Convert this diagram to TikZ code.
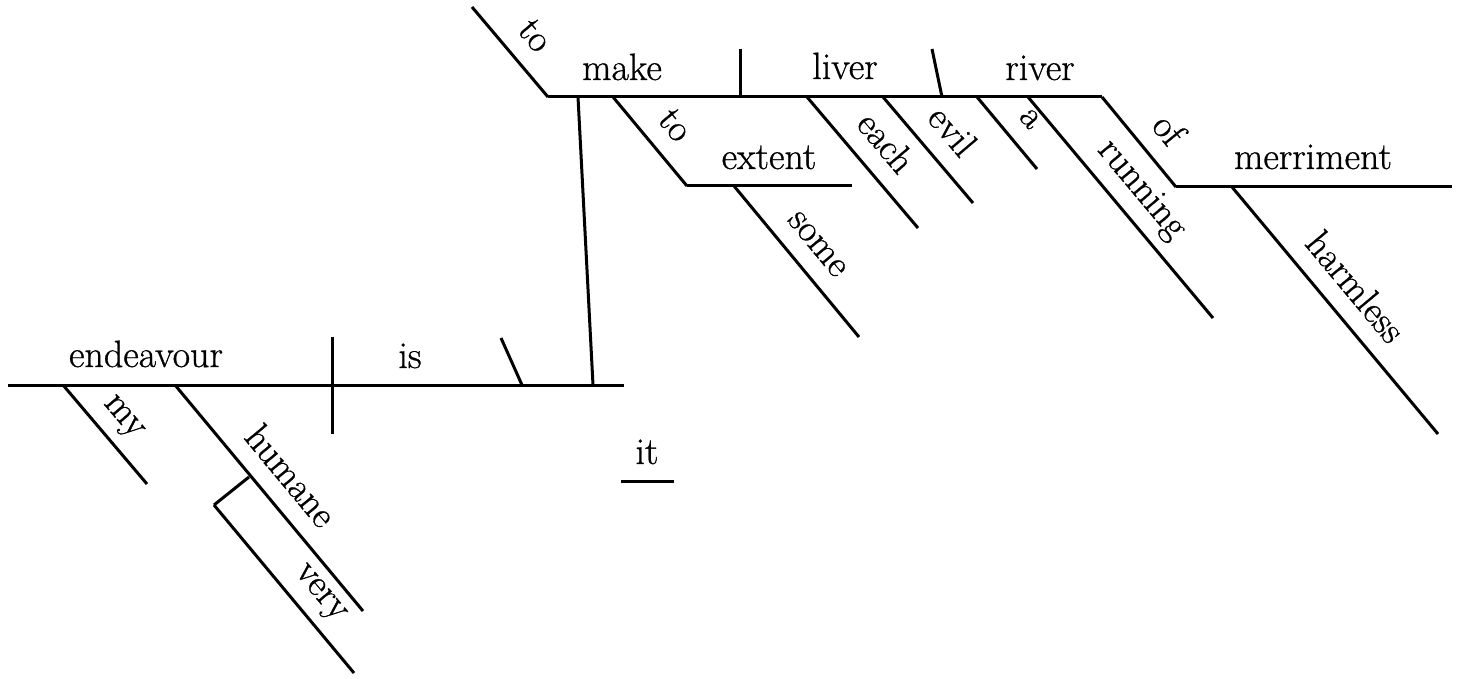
\documentclass[tikz,border=0pt]{standalone}
\usepackage{fontspec}
\newfontfamily\wfam{Latin Modern Roman}[FakeBold=0.8]
\newcommand\wfont{\wfam\fontsize{38}{44}\selectfont}
\begin{document}
\begin{tikzpicture}[x=1pt,y=-1pt,
  ln/.style={line width=3pt},
  word/.style={anchor=base, inner sep=0pt, font=\wfont},
  lab/.style={sloped, anchor=south, inner xsep=0pt, inner ysep=17pt, text depth=0pt, font=\wfont}]
\useasboundingbox (0,0) rectangle (1465,679);
% main clause
\coordinate (mL) at (8,385);
\coordinate (mR) at (624,385);
\coordinate (dT) at (332,337);
\coordinate (dB) at (332,434);
\coordinate (sT) at (501,338);
\coordinate (sB) at (522,385);
\coordinate (pB) at (593,385);
\coordinate (pT) at (578,97);
\coordinate (myS) at (63,385);
\coordinate (myE) at (147,484);
\coordinate (huS) at (175,385);
\coordinate (huE) at (363,611);
\coordinate (veS) at (249,477);
\coordinate (veC) at (214,505);
\coordinate (veE) at (354,673);
\coordinate (itL) at (621,481);
\coordinate (itR) at (674,481);
% infinitive phrase
\coordinate (toS) at (472,7);
\coordinate (iL) at (548,97);
\coordinate (iR) at (1102,97);
\coordinate (d2T) at (740,49);
\coordinate (d2B) at (740,97);
\coordinate (s2T) at (932,49);
\coordinate (s2B) at (942,97);
\coordinate (teS) at (613,97);
\coordinate (teC) at (687,186);
\coordinate (teE) at (852,186);
\coordinate (soS) at (734,186);
\coordinate (soE) at (859,337);
\coordinate (eaS) at (807,97);
\coordinate (eaE) at (918,228);
\coordinate (evS) at (883,97);
\coordinate (evE) at (973,203);
\coordinate (aS) at (977,97);
\coordinate (aE) at (1037,169);
\coordinate (ruS) at (1028,97);
\coordinate (ruE) at (1213,318);
\coordinate (ofC) at (1176,187);
\coordinate (ofE) at (1452,187);
\coordinate (haS) at (1232,187);
\coordinate (haE) at (1438,434);

\draw[ln] (mL) -- (mR);
\draw[ln] (dT) -- (dB);
\draw[ln] (sT) -- (sB);
\draw[ln] (pB) -- (pT);
\draw[ln] (myS) -- (myE) node[lab,pos=0.49] (lMy) {my};
\draw[ln] (huS) -- (huE) node[lab,pos=0.49] (lHumane) {humane};
\draw[ln] (veS) -- (veC);
\draw[ln] (veC) -- (veE) node[lab,pos=0.62] (lVery) {very};
\draw[ln] (itL) -- (itR);

\draw[ln] (toS) -- (iL) node[lab,pos=0.53] (lTo) {to};
\draw[ln] (iL) -- (iR);
\draw[ln] (d2T) -- (d2B);
\draw[ln] (s2T) -- (s2B);
\draw[ln] (teS) -- (teC) node[lab,pos=0.53] (lTo2) {to};
\draw[ln] (teC) -- (teE);
\draw[ln] (soS) -- (soE) node[lab,pos=0.50] (lSome) {some};
\draw[ln] (eaS) -- (eaE) node[lab,pos=0.50] (lEach) {each};
\draw[ln] (evS) -- (evE) node[lab,pos=0.51] (lEvil) {evil};
\draw[ln] (aS) -- (aE) node[lab,pos=0.54] (lA) {a};
\draw[ln] (ruS) -- (ruE) node[lab,pos=0.50] (lRunning) {running};
\draw[ln] (iR) -- (ofC) node[lab,pos=0.58] (lOf) {of};
\draw[ln] (ofC) -- (ofE);
\draw[ln] (haS) -- (haE) node[lab,pos=0.485] (lHarmless) {harmless};

\node[word] (wEndeavour) at (146,367) {endeavour};
\node[word] (wIs) at (410,368) {is};
\node[word] (wIt) at (647,464) {it};
\node[word] (wMake) at (622,80) {make};
\node[word] (wLiver) at (845,79) {liver};
\node[word] (wRiver) at (1040,80) {river};
\node[word] (wExtent) at (769,169) {extent};
\node[word] (wMerriment) at (1313,169) {merriment};
\end{tikzpicture}
\end{document}
